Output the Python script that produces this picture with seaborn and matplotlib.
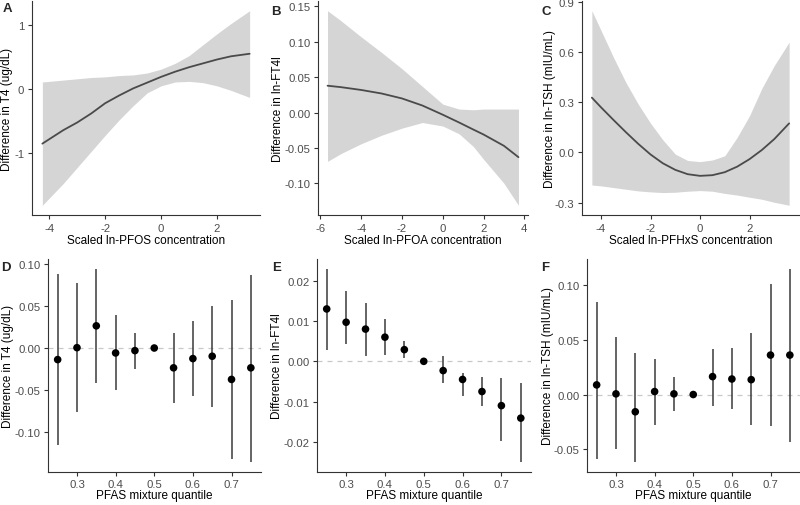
import pandas as pd
import matplotlib
matplotlib.use("Agg")
import matplotlib.pyplot as plt
import seaborn as sns

# panel A: T4 vs scaled ln-PFOS (smooth + CI band)
pfos_x = [-4.25, -3.5, -3.0, -2.5, -2.0, -1.5, -1.0, -0.5, 0.0, 0.5, 1.0, 1.5, 2.0, 2.5, 3.17]
pfos_fit = [-0.85, -0.64, -0.52, -0.38, -0.22, -0.10, 0.01, 0.10, 0.19, 0.27, 0.34, 0.40, 0.46, 0.51, 0.55]
pfos_hi = [0.11, 0.14, 0.16, 0.18, 0.19, 0.21, 0.22, 0.25, 0.31, 0.40, 0.52, 0.69, 0.86, 1.02, 1.22]
pfos_lo = [-1.81, -1.47, -1.22, -0.97, -0.72, -0.48, -0.26, -0.06, 0.05, 0.11, 0.12, 0.10, 0.05, -0.02, -0.13]

# panel B: ln-FT4 vs scaled ln-PFOA
pfoa_x = [-5.65, -5.0, -4.0, -3.0, -2.0, -1.0, 0.0, 0.8, 1.5, 2.0, 3.0, 3.71]
pfoa_fit = [0.038, 0.036, 0.032, 0.027, 0.020, 0.010, -0.003, -0.014, -0.024, -0.031, -0.047, -0.063]
pfoa_hi = [0.144, 0.130, 0.107, 0.085, 0.062, 0.037, 0.012, 0.005, 0.004, 0.005, 0.005, 0.005]
pfoa_lo = [-0.069, -0.058, -0.044, -0.032, -0.022, -0.014, -0.019, -0.030, -0.048, -0.066, -0.100, -0.131]

# panel C: ln-TSH vs scaled ln-PFHxS
pfhxs_x = [-4.37, -4.0, -3.5, -3.0, -2.5, -2.0, -1.5, -1.0, -0.5, 0.0, 0.5, 1.0, 1.5, 2.0, 2.5, 3.0, 3.6]
pfhxs_fit = [0.328, 0.27, 0.195, 0.122, 0.052, -0.012, -0.065, -0.104, -0.13, -0.14, -0.136, -0.118, -0.085, -0.04, 0.015, 0.08, 0.174]
pfhxs_hi = [0.848, 0.73, 0.57, 0.42, 0.29, 0.175, 0.075, -0.01, -0.048, -0.055, -0.045, -0.02, 0.09, 0.22, 0.384, 0.52, 0.66]
pfhxs_lo = [-0.195, -0.20, -0.21, -0.22, -0.23, -0.236, -0.24, -0.238, -0.232, -0.228, -0.232, -0.245, -0.255, -0.268, -0.28, -0.298, -0.316]

# panels D-F: mixture quantile effects
quantiles = [0.25, 0.30, 0.35, 0.40, 0.45, 0.50, 0.55, 0.60, 0.65, 0.70, 0.75]
t4_est = [-0.0138, 0.0004, 0.0264, -0.0059, -0.0031, 0.0, -0.0236, -0.0126, -0.0098, -0.0374, -0.0236]
t4_hi = [0.0886, 0.0776, 0.0945, 0.0394, 0.0177, 0.0, 0.0177, 0.0327, 0.0500, 0.0571, 0.0874]
t4_lo = [-0.1154, -0.0768, -0.0413, -0.0500, -0.0248, 0.0, -0.0654, -0.0567, -0.0700, -0.1319, -0.1358]

ft4_est = [0.0130, 0.0097, 0.0080, 0.0060, 0.0029, 0.0, -0.0023, -0.0045, -0.0075, -0.0110, -0.0141]
ft4_hi = [0.0230, 0.0174, 0.0146, 0.0105, 0.0050, 0.0, 0.0012, -0.0028, -0.0038, -0.0042, -0.0054]
ft4_lo = [0.0028, 0.0043, 0.0014, 0.0016, 0.0008, 0.0, -0.0055, -0.0085, -0.0112, -0.0198, -0.0250]

tsh_est = [0.0088, 0.0006, -0.0158, 0.0027, 0.0006, 0.0, 0.0164, 0.0142, 0.0136, 0.0361, 0.0361]
tsh_hi = [0.0845, 0.0527, 0.0379, 0.0324, 0.0158, 0.0, 0.0421, 0.0427, 0.0561, 0.1012, 0.1152]
tsh_lo = [-0.0591, -0.0503, -0.0618, -0.0276, -0.0148, 0.0, -0.0106, -0.0136, -0.0282, -0.0291, -0.0433]

sns.set_style("ticks")
plt.rcParams["font.family"] = ["Liberation Sans", "DejaVu Sans"]
plt.rcParams["axes.unicode_minus"] = False

W, H = 800, 506
fig = plt.figure(figsize=(W / 100, H / 100), dpi=100)

TICK_COL = "#4D4D4D"
AX_COL = "#333333"


def px_axes(l, t, r, b):
    return fig.add_axes([l / W, 1 - b / H, (r - l) / W, (b - t) / H])


def style(ax, xticks, xlabels, yticks, ylabels, xlab, ylab, xlab_top, ylab_right, tag, tag_xy):
    ax.set_xticks(xticks)
    ax.set_xticklabels(xlabels)
    ax.set_yticks(yticks)
    ax.set_yticklabels(ylabels)
    for side in ["top", "right"]:
        ax.spines[side].set_visible(False)
    for side in ["left", "bottom"]:
        ax.spines[side].set_color(AX_COL)
        ax.spines[side].set_linewidth(0.8)
    ax.tick_params(colors=AX_COL, labelcolor=TICK_COL, labelsize=8.2,
                   length=3, width=0.8, pad=2.5)
    ax.set_xlabel(xlab, fontsize=8.5, color="black")
    ax.set_ylabel(ylab, fontsize=8.5, color="black")
    pos = ax.get_position()
    ax.xaxis.set_label_coords(pos.x0 + pos.width / 2, 1 - xlab_top / H, transform=fig.transFigure)
    ax.yaxis.set_label_coords(ylab_right / W, pos.y0 + pos.height / 2, transform=fig.transFigure)
    fig.text(tag_xy[0] / W, 1 - tag_xy[1] / H, tag, fontsize=9.5, fontweight="bold",
             ha="left", va="top")


def smooth_panel(ax, x, fit, lo, hi):
    ax.fill_between(x, lo, hi, color="#D5D5D5", lw=0, zorder=1)
    df = pd.DataFrame({"x": x, "fit": fit})
    sns.lineplot(data=df, x="x", y="fit", ax=ax, color="#4A4A4A", lw=1.3, zorder=2)


def quantile_panel(ax, est, lo, hi):
    ax.axhline(0, color="#C8C8C8", lw=0.9, ls=(0, (4, 4)), zorder=0)
    ax.vlines(quantiles, lo, hi, color="#3A3A3A", lw=1.1, zorder=2)
    df = pd.DataFrame({"q": quantiles, "est": est})
    sns.scatterplot(data=df, x="q", y="est", ax=ax, color="black", s=30,
                    edgecolor="none", zorder=3)


# top row
axA = px_axes(32, 2, 260, 216)
smooth_panel(axA, pfos_x, pfos_fit, pfos_lo, pfos_hi)
style(axA, [-4, -2, 0, 2], ["-4", "-2", "0", "2"], [-1, 0, 1], ["-1", "0", "1"],
      "Scaled ln-PFOS concentration", "Difference in T4 (ug/dL)", 235, 13, "A", (2.5, 3))

axB = px_axes(318, 2, 528, 216)
smooth_panel(axB, pfoa_x, pfoa_fit, pfoa_lo, pfoa_hi)
style(axB, [-6, -4, -2, 0, 2, 4], ["-6", "-4", "-2", "0", "2", "4"],
      [-0.10, -0.05, 0.0, 0.05, 0.10, 0.15], ["-0.10", "-0.05", "0.00", "0.05", "0.10", "0.15"],
      "Scaled ln-PFOA concentration", "Difference in ln-FT4l", 235, 284, "B", (271, 6))

axC = px_axes(582, 2, 799, 216)
smooth_panel(axC, pfhxs_x, pfhxs_fit, pfhxs_lo, pfhxs_hi)
style(axC, [-4, -2, 0, 2], ["-4", "-2", "0", "2"],
      [-0.3, 0.0, 0.3, 0.6, 0.9], ["-0.3", "0.0", "0.3", "0.6", "0.9"],
      "Scaled ln-PFHxS concentration", "Difference in ln-TSH (mIU/mL)", 235, 556, "C", (542, 6))

# bottom row
q_ticks = [0.3, 0.4, 0.5, 0.6, 0.7]
q_labels = ["0.3", "0.4", "0.5", "0.6", "0.7"]

axD = px_axes(48, 260, 260.5, 472.7)
quantile_panel(axD, t4_est, t4_lo, t4_hi)
style(axD, q_ticks, q_labels, [-0.10, -0.05, 0.0, 0.05, 0.10],
      ["-0.10", "-0.05", "0.00", "0.05", "0.10"],
      "PFAS mixture quantile", "Difference in T4 (ug/dL)", 490, 14, "D", (1.5, 262))

axE = px_axes(317, 260, 530.5, 472.7)
quantile_panel(axE, ft4_est, ft4_lo, ft4_hi)
style(axE, q_ticks, q_labels, [-0.02, -0.01, 0.0, 0.01, 0.02],
      ["-0.02", "-0.01", "0.00", "0.01", "0.02"],
      "PFAS mixture quantile", "Difference in ln-FT4l", 490, 283, "E", (272, 262))

axF = px_axes(587, 260, 799.5, 472.7)
quantile_panel(axF, tsh_est, tsh_lo, tsh_hi)
style(axF, q_ticks, q_labels, [-0.05, 0.0, 0.05, 0.10],
      ["-0.05", "0.00", "0.05", "0.10"],
      "PFAS mixture quantile", "Difference in ln-TSH (mIU/mL)", 490, 554, "F", (541, 262))

fig.savefig("out.png", dpi=100, facecolor="white")
